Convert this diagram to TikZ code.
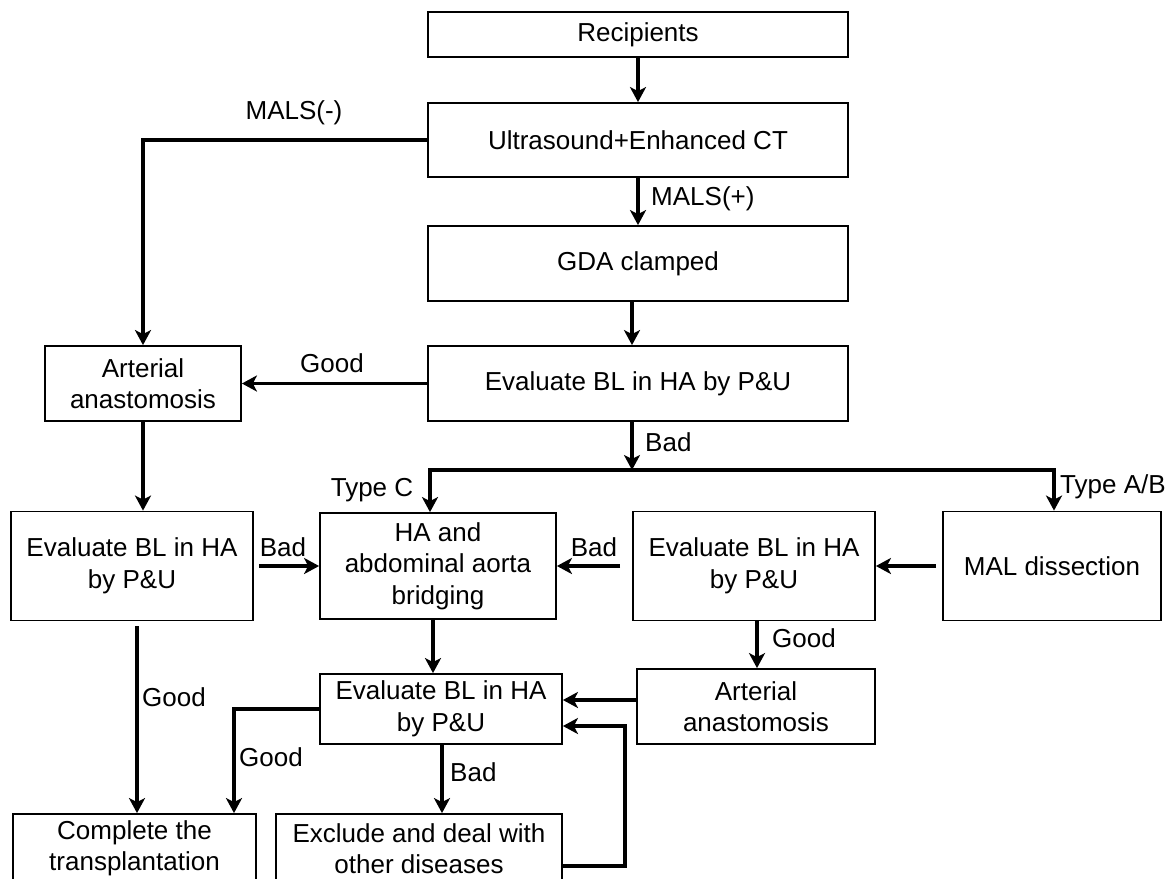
\documentclass[tikz,border=0pt]{standalone}
\usepackage{fontspec}
\setmainfont{Liberation Sans}
\usetikzlibrary{arrows.meta}
\begin{document}
\begin{tikzpicture}[x=1pt,y=-1pt,
  box/.style={draw, line width=1.8pt, align=center, inner sep=0pt, rectangle, font=\fontsize{26}{31.5}\selectfont},
  arr/.style={line width=3.8pt, -{Stealth[length=15pt,width=16pt,inset=4pt]}},
  lbl/.style={font=\fontsize{26}{31.5}\selectfont, inner sep=0pt}]
\useasboundingbox (0,0) rectangle (1169,878);
\clip (0,0) rectangle (1169,878);
\fill[white] (0,0) rectangle (1169,878);

% boxes
\node[box, minimum width=420pt, minimum height=45pt] (rec) at (638,34.5) {Recipients};
\node[box, minimum width=420pt, minimum height=74pt] (us) at (638,140) {Ultrasound+Enhanced CT};
\node[box, minimum width=420pt, minimum height=75pt] (gda) at (638,263.5) {GDA clamped};
\node[box, minimum width=420pt, minimum height=75pt] (ev1) at (638,383.5) {Evaluate BL in HA by P\&U};
\node[box, minimum width=196pt, minimum height=75pt] (art1) at (143,383.5) {Arterial\\anastomosis};
\node[box, minimum width=242pt, minimum height=109pt] (ev2) at (132,566) {Evaluate BL in HA\\by P\&U};
\node[box, minimum width=236pt, minimum height=106pt] (ha) at (438,566) {HA and\\abdominal aorta\\bridging};
\node[box, minimum width=242pt, minimum height=109pt] (ev3) at (754,566) {Evaluate BL in HA\\by P\&U};
\node[box, minimum width=218pt, minimum height=109pt] (mal) at (1052,566) {MAL dissection};
\node[box, minimum width=242pt, minimum height=70pt] (ev4) at (441,709) {Evaluate BL in HA\\by P\&U};
\node[box, minimum width=238pt, minimum height=75pt] (art2) at (756,706.5) {Arterial\\anastomosis};
\node[box, minimum width=243pt, minimum height=69pt] (comp) at (134.5,848.5) {Complete the\\transplantation};
\node[box, minimum width=286pt, minimum height=69pt] (excl) at (419,848.5) {Exclude and deal with\\other diseases};

% helper coordinates
\coordinate (bj) at (632,470);
\coordinate (tc) at (430,470);
\coordinate (tab) at (1054,470);
\coordinate (lc) at (625,726);

% connectors
\draw[arr] (rec.south) -- (us.north);
\draw[arr] (us.west) -| (art1.north);
\draw[arr] (us.south) -- (gda.north);
\draw[arr] ([xshift=-6pt]gda.south) -- ([xshift=-6pt]ev1.north);
\draw[arr] (ev1.west) -- (art1.east);
\draw[arr] (art1.south) -- (art1.south |- ev2.north);
\draw[arr] ([xshift=-6pt]ev1.south) -- (bj);
\draw[arr] (bj) -| (tc |- ha.north);
\draw[arr] (bj) -| (tab |- mal.north);
\draw[arr] ([xshift=5pt]ev2.east) -- (ha.west);
\draw[arr] ([xshift=-6pt]mal.west) -- (ev3.east);
\draw[arr] ([xshift=-12pt]ev3.west) -- (ha.east);
\draw[arr] ([xshift=3pt]ev3.south) -- ([xshift=3pt]ev3.south |- art2.north);
\draw[arr] ([xshift=-5pt]ha.south) -- ([xshift=-5pt]ha.south |- ev4.north);
\draw[arr] ([yshift=6.5pt]art2.west) -- ([yshift=6.5pt]art2.west -| ev4.east);
\draw[arr] ([yshift=-17.5pt]excl.east) -| (lc) -- (lc -| ev4.east);
\draw[arr] (ev4.west) -| ([xshift=99.5pt]comp.north);
\draw[arr] ([xshift=5pt,yshift=-5pt]ev2.south) -- ([xshift=5pt]ev2.south |- comp.north);
\draw[arr] ([xshift=1pt]ev4.south) -- ([xshift=1pt]ev4.south |- excl.north);

% labels
\node[lbl] (l1) at (294,113) {MALS(-)};
\node[lbl, anchor=west] (l2) at (651,199) {MALS(+)};
\node[lbl] (l3) at (332,363) {Good};
\node[lbl, anchor=west] (l4) at (645,442) {Bad};
\node[lbl] (l5) at (372,490) {Type C};
\node[lbl, anchor=west] (l6) at (1060,487) {Type A/B};
\node[lbl] (l7) at (283,547) {Bad};
\node[lbl] (l8) at (594,547) {Bad};
\node[lbl, anchor=west] (l9) at (772,638) {Good};
\node[lbl, anchor=west] (l10) at (142,697) {Good};
\node[lbl] (l11) at (271,757) {Good};
\node[lbl, anchor=west] (l12) at (450,772) {Bad};
\end{tikzpicture}
\end{document}
